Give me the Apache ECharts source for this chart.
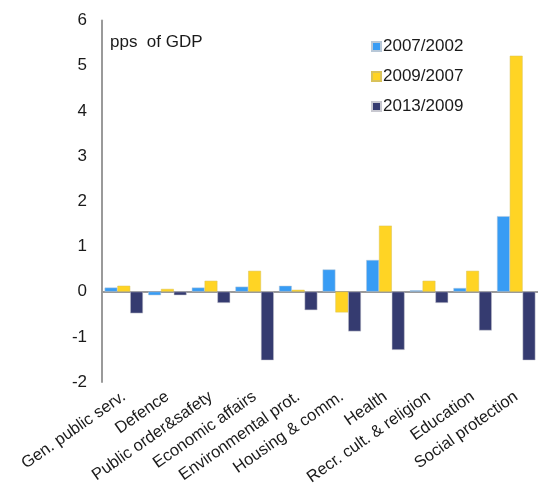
<!DOCTYPE html>
<html>
<head>
<meta charset="utf-8">
<script src="https://cdn.jsdelivr.net/npm/echarts@6/dist/echarts.min.js"></script>
<style>
  html, body { margin: 0; padding: 0; background: #fff; }
  #chart { width: 538px; height: 488px; }
</style>
</head>
<body>
<div id="chart"></div>
<script>
// Change in spending by government function, percentage points of GDP
const categories = [
  'Gen. public serv.', 'Defence', 'Public order&safety', 'Economic affairs',
  'Environmental prot.', 'Housing & comm.', 'Health', 'Recr. cult. & religion',
  'Education', 'Social protection'
];
const seriesNames = ['2007/2002', '2009/2007', '2013/2009'];
const change2007_2002 = [0.09, -0.08, 0.09, 0.11, 0.13, 0.49, 0.70, 0.03, 0.08, 1.67];
const change2009_2007 = [0.13, 0.06, 0.24, 0.46, 0.04, -0.46, 1.46, 0.24, 0.46, 5.22];
const change2013_2009 = [-0.48, -0.08, -0.25, -1.52, -0.41, -0.88, -1.29, -0.25, -0.86, -1.52];
const yTicks = [-2, -1, 0, 1, 2, 3, 4, 5, 6];

const colors = ['#389cf4', '#ffd424', '#353b70'];
const font = 'Liberation Sans, Arial, sans-serif';

const chart = echarts.init(document.getElementById('chart'), null, { renderer: 'canvas' });

chart.setOption({
  animation: false,
  backgroundColor: '#ffffff',
  color: colors,
  grid: { left: 102, top: 20.5, width: 438, bottom: 106, containLabel: false },
  legend: {
    orient: 'vertical',
    left: 366,
    top: 33,
    itemWidth: 9,
    itemHeight: 9,
    itemGap: 13,
    icon: 'rect',
    textStyle: { fontFamily: font, fontSize: 17, color: '#1a1a1a', padding: [0, 0, 0, -3] },
    data: seriesNames
  },
  graphic: [{
    type: 'text',
    left: 110,
    top: 34,
    style: { text: 'pps  of GDP', font: '17px ' + font, fill: '#1a1a1a' }
  }],
  xAxis: [
    {
      type: 'category',
      data: categories,
      axisLine: { onZero: true, lineStyle: { color: '#9a9a9a', width: 2 } },
      axisTick: { show: false },
      axisLabel: { show: false }
    },
    {
      type: 'category',
      data: categories,
      position: 'bottom',
      axisLine: { show: false },
      axisTick: { show: false },
      axisLabel: {
        rotate: 35,
        margin: 13,
        interval: 0,
        fontFamily: font,
        fontSize: 16.5,
        color: '#1a1a1a'
      }
    }
  ],
  yAxis: {
    type: 'value',
    min: yTicks[0],
    max: yTicks[yTicks.length - 1],
    interval: 1,
    axisLine: { show: true, onZero: false, lineStyle: { color: '#9a9a9a', width: 2 } },
    axisTick: { show: false },
    splitLine: { show: false },
    axisLabel: { fontFamily: font, fontSize: 17, color: '#1a1a1a', margin: 15 }
  },
  series: [
    { name: seriesNames[0], type: 'bar', data: change2007_2002, xAxisIndex: 0,
      barGap: '0%', barCategoryGap: '12%',
      itemStyle: { color: colors[0], borderColor: '#b8c8d8', borderWidth: 0.5 } },
    { name: seriesNames[1], type: 'bar', data: change2009_2007, xAxisIndex: 0,
      barGap: '0%', barCategoryGap: '12%',
      itemStyle: { color: colors[1], borderColor: '#d9c25a', borderWidth: 0.5 } },
    { name: seriesNames[2], type: 'bar', data: change2013_2009, xAxisIndex: 0,
      barGap: '0%', barCategoryGap: '12%',
      itemStyle: { color: colors[2], borderColor: '#c8c8d0', borderWidth: 0.5 } }
  ]
});
</script>
</body>
</html>
